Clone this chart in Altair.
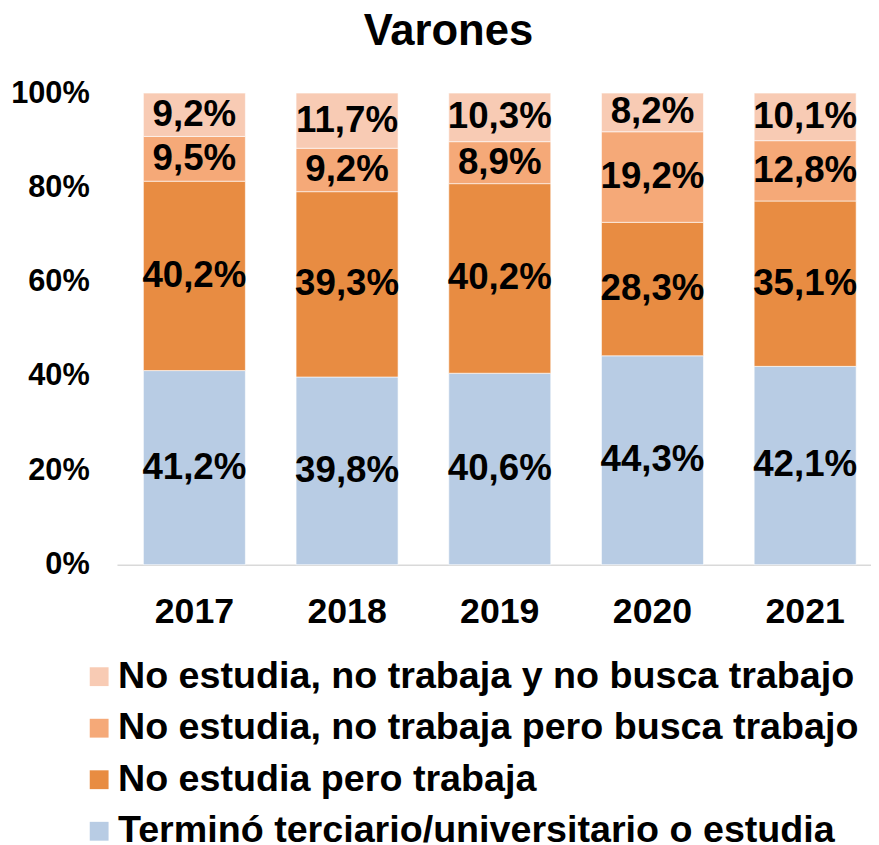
import altair as alt
import pandas as pd

years = ["2017", "2018", "2019", "2020", "2021"]
categories = [
    "No estudia, no trabaja y no busca trabajo",
    "No estudia, no trabaja pero busca trabajo",
    "No estudia pero trabaja",
    "Terminó terciario/universitario o estudia",
]
colors = ["#F8CBB4", "#F5A978", "#E88C42", "#B8CCE4"]

termino = [41.2, 39.8, 40.6, 44.3, 42.1]
trabaja = [40.2, 39.3, 40.2, 28.3, 35.1]
busca = [9.5, 9.2, 8.9, 19.2, 12.8]
no_busca = [9.2, 11.7, 10.3, 8.2, 10.1]

series = {
    categories[3]: (termino, 0),
    categories[2]: (trabaja, 1),
    categories[1]: (busca, 2),
    categories[0]: (no_busca, 3),
}

rows = []
for cat, (vals, order) in series.items():
    for y, v in zip(years, vals):
        rows.append({
            "year": y,
            "cat": cat,
            "value": v,
            "ord": order,
            "label": f"{v:.1f}%".replace(".", ","),
        })
df = pd.DataFrame(rows)

FONT = "Liberation Sans"

base = alt.Chart(df).transform_stack(
    stack="value",
    groupby=["year"],
    as_=["y0", "y1"],
    offset="normalize",
    sort=[alt.SortField("ord", order="ascending")],
).transform_calculate(
    mid="(datum.y0 + datum.y1) / 2"
)

x_enc = alt.X(
    "year:N",
    title=None,
    scale=alt.Scale(paddingInner=0.332, paddingOuter=0.135, align=0.64),
    axis=alt.Axis(
        labelAngle=0,
        labelFont=FONT,
        labelFontSize=36,
        labelFontWeight="bold",
        labelColor="black",
        labelPadding=30,
        ticks=False,
        domainColor="#D9D9D9",
        domainWidth=1.5,
        grid=False,
    ),
)

bars = base.mark_bar(stroke="white", strokeWidth=0.6).encode(
    x=x_enc,
    y=alt.Y(
        "y0:Q",
        title=None,
        scale=alt.Scale(domain=[0, 1], nice=False),
        axis=alt.Axis(
            format=".0%",
            values=[0, 0.2, 0.4, 0.6, 0.8, 1.0],
            labelFont=FONT,
            labelFontSize=31,
            labelFontWeight="bold",
            labelColor="black",
            labelPadding=28,
            ticks=False,
            domain=False,
            grid=False,
        ),
    ),
    y2="y1:Q",
    color=alt.Color(
        "cat:N",
        scale=alt.Scale(domain=categories, range=colors),
        legend=alt.Legend(
            title=None,
            orient="none",
            legendX=-37,
            legendY=570,
            direction="vertical",
            symbolType="square",
            symbolSize=361,
            symbolStrokeWidth=0,
            labelFont=FONT,
            labelFontSize=38,
            labelFontWeight="bold",
            labelColor="black",
            labelOffset=0,
            rowPadding=14,
            labelLimit=900,
        ),
    ),
)

texts = base.mark_text(
    font=FONT, fontSize=37, fontWeight="bold", color="black", baseline="middle"
).encode(
    x="year:N",
    y="mid:Q",
    text="label:N",
)

chart = alt.layer(bars, texts).properties(
    width=761,
    height=476,
    autosize=alt.AutoSizeParams(type="none"),
    padding={"left": 110, "top": 82, "right": 0, "bottom": 279},
    title=alt.Title(
        "Varones",
        font=FONT,
        fontSize=44,
        fontWeight="bold",
        color="black",
        anchor="middle",
        dx=-46,
        offset=24,
    ),
).configure_view(stroke=None)

chart.save("out.html", embed_options={"renderer": "svg", "actions": False})
